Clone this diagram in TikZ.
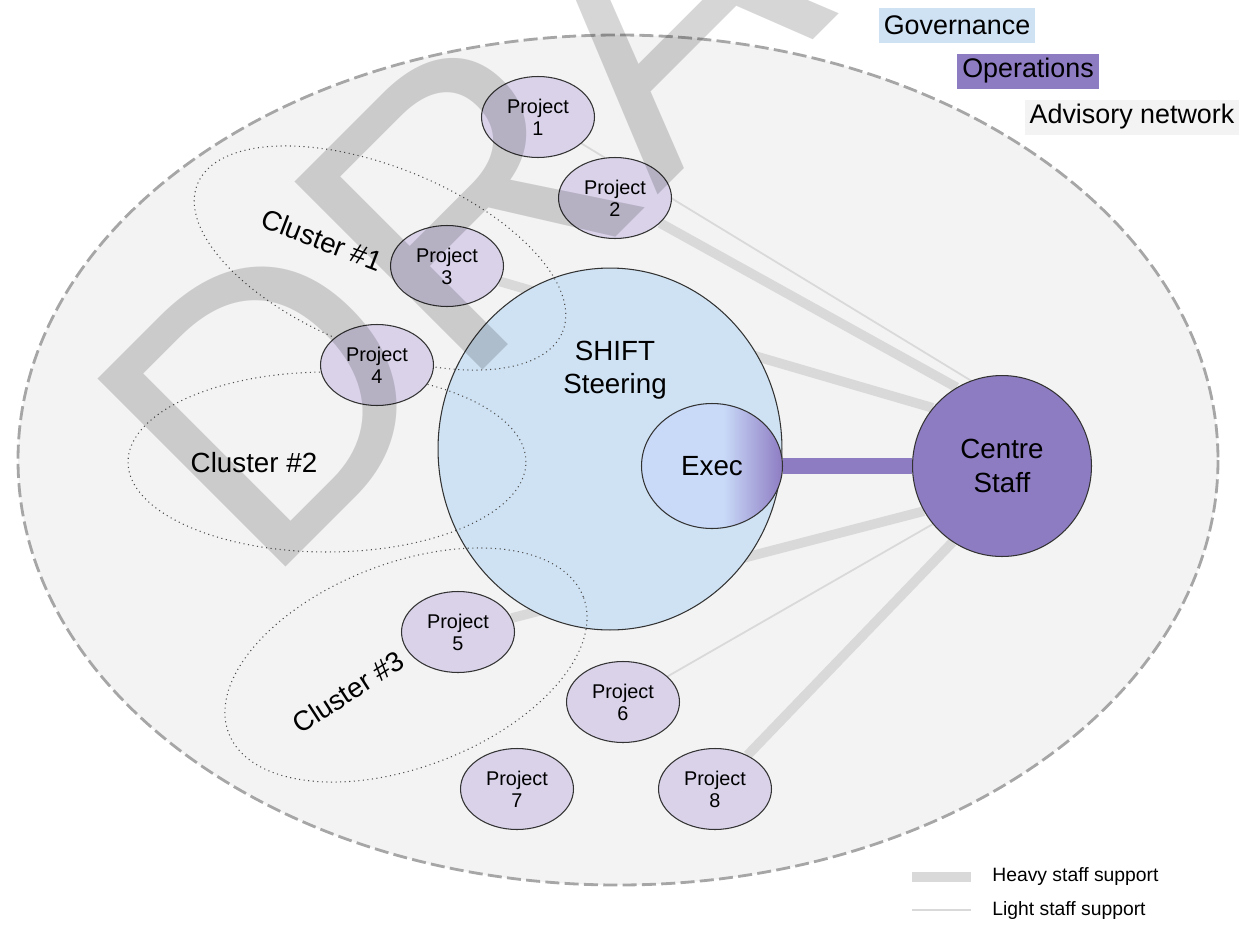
\documentclass[tikz,border=0pt]{standalone}
\usepackage{fontspec}
\setmainfont{Liberation Sans}
\usetikzlibrary{shapes.geometric}
\pgfdeclarelayer{back}
\pgfdeclarelayer{links}
\pgfdeclarelayer{front}
\pgfsetlayers{back,links,main,front}
\begin{document}
\begin{tikzpicture}[x=0.02cm, y=-0.02cm,
  project/.style={ellipse, draw=black!80, line width=0.6pt, fill=projlilac, minimum width=2.26cm, minimum height=1.62cm, inner sep=0pt, align=center, font=\fontsize{11.3}{12.5}\selectfont},
  hub/.style={ellipse, draw=black!80, line width=0.6pt, inner sep=0pt, align=center, font=\fontsize{15.8}{19}\selectfont},
  bigtext/.style={inner sep=0pt, align=center, font=\fontsize{15.8}{19}\selectfont},
  cluster/.style={ellipse, draw=black!70, dotted, line width=0.6pt, inner sep=0pt},
  key/.style={inner sep=0pt, inner xsep=0.1cm, minimum height=0.7cm, font=\fontsize{15.3}{18}\selectfont},
  heavy/.style={draw=linkgray, line width=5.5pt},
  light/.style={draw=linkgray, line width=1pt}]
\definecolor{govblue}{HTML}{CFE2F3}
\definecolor{opspurple}{HTML}{8E7CC3}
\definecolor{advgray}{HTML}{F3F3F3}
\definecolor{projlilac}{HTML}{D9D2E9}
\definecolor{execblue}{HTML}{C9DAF8}
\definecolor{linkgray}{HTML}{D9D9D9}
\pgfdeclarehorizontalshading{execshade}{100bp}{color(0bp)=(execblue); color(25bp)=(execblue); color(54bp)=(execblue); color(75bp)=(opspurple); color(100bp)=(opspurple)}
\useasboundingbox (0,0) rectangle (1255,927);
% advisory network
\begin{pgfonlayer}{back}
\draw[fill=advgray, draw=gray!70, line width=1.6pt, dash pattern=on 8pt off 3pt] (618,460) ellipse [x radius=600, y radius=425];
\end{pgfonlayer}
% steering, exec and staff
\node[hub, fill=govblue, minimum width=6.88cm, minimum height=7.24cm] (shift) at (610,449) {};
\node[bigtext] (shifttext) at (615,370) {SHIFT\\Steering};
\node[hub, shading=execshade, minimum width=2.82cm, minimum height=2.5cm] (exec) at (712,466) {Exec};
\node[hub, fill=opspurple, minimum width=3.58cm, minimum height=3.62cm] (cs) at (1002,466) {Centre\\Staff};
% clusters
\node[cluster, minimum width=7.88cm, minimum height=3.64cm, rotate=-22] (c1) at (380,258) {};
\node[cluster, minimum width=7.96cm, minimum height=3.6cm] (c2) at (327,462) {};
\node[cluster, minimum width=7.6cm, minimum height=4.08cm, rotate=21] (c3) at (406,665) {};
\node[bigtext, rotate=-21] (c1label) at (322,240) {Cluster \#1};
\node[bigtext] (c2label) at (254,463) {Cluster \#2};
\node[bigtext, rotate=33] (c3label) at (348,692) {Cluster \#3};
% projects
\foreach \n/\x/\y in {1/538/117, 2/615/198, 3/447/266, 4/377/365, 5/458/632, 6/623/702, 7/517/789, 8/715/789}
  \node[project] (p\n) at (\x,\y) {Project\\\n};
% staff support
\begin{pgfonlayer}{links}
\draw[light] (p1) -- (cs.110);
\draw[heavy] (p2) -- (cs.120);
\draw[heavy] (p3) -- (cs.140);
\draw[heavy] (p5) -- (cs.210);
\draw[light] (p6) -- (cs.220);
\draw[heavy] (p8) -- (cs.237);
\draw[opspurple, line width=9.6pt] (exec) -- (cs);
\end{pgfonlayer}
% legend
\node[key, fill=govblue] (govkey) at (957,25) {Governance};
\node[key, fill=opspurple] (opskey) at (1028,71) {Operations};
\node[key, fill=advgray] (advkey) at (1132,117) {Advisory network};
\coordinate (heavyA) at (912,877);
\coordinate (heavyB) at (971,877);
\coordinate (lightA) at (912,910);
\coordinate (lightB) at (971,910);
\draw[heavy] (heavyA) -- (heavyB);
\draw[light] (lightA) -- (lightB);
\node[anchor=west, inner sep=0pt, font=\fontsize{11}{13}\selectfont] (heavykey) at (992,877) {Heavy staff support};
\node[anchor=west, inner sep=0pt, font=\fontsize{11}{13}\selectfont] (lightkey) at (992,910) {Light staff support};
% watermark
\begin{pgfonlayer}{front}
\node[anchor=base west, rotate=45, inner sep=0pt, text=black, text opacity=0.16, font=\fontsize{220}{220}\selectfont] (draft) at (263,590) {DRAFT};
\end{pgfonlayer}
\end{tikzpicture}
\end{document}
